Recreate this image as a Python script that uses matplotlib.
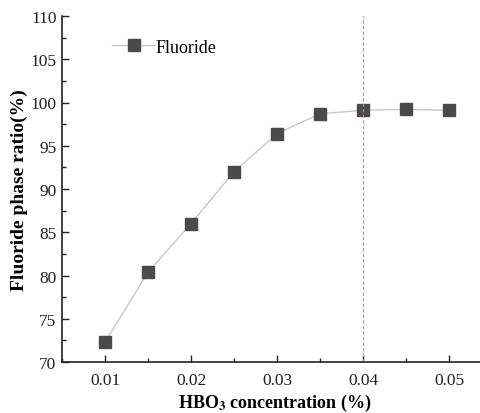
import matplotlib.pyplot as plt
from matplotlib.ticker import MultipleLocator

plt.rcParams['font.family'] = ['Liberation Serif', 'DejaVu Serif']
plt.rcParams['mathtext.fontset'] = 'stix'

# HBO3 concentration (%) vs fluoride phase ratio (%)
conc = [0.010, 0.015, 0.020, 0.025, 0.030, 0.035, 0.040, 0.045, 0.050]
ratio = [72.3, 80.4, 86.0, 92.0, 96.4, 98.7, 99.1, 99.2, 99.1]
x_ticks = [0.01, 0.02, 0.03, 0.04, 0.05]
optimum = 0.04

fig = plt.figure(figsize=(4.81, 4.14), dpi=100)
ax = fig.add_axes([0.129, 0.123, 0.885, 0.836])

ax.plot(conc, ratio, color='#c8c8c8', lw=1.0, marker='s', ms=8,
        mfc='#4a4a4a', mec='#4a4a4a', label='Fluoride')
ax.axvline(optimum, color='#ff6f80', lw=0.8, ls=(0, (3, 2)))

ax.set_xlim(0.005, 0.0545)
ax.set_ylim(70, 110)
ax.set_xticks(x_ticks)
ax.set_xticklabels([f'{v:.2f}' for v in x_ticks])
ax.xaxis.set_minor_locator(MultipleLocator(0.005))
ax.yaxis.set_major_locator(MultipleLocator(5))
ax.yaxis.set_minor_locator(MultipleLocator(2.5))

for s in ('top', 'right'):
    ax.spines[s].set_visible(False)
for s in ('left', 'bottom'):
    ax.spines[s].set_linewidth(1.2)
    ax.spines[s].set_color('#222222')

ax.tick_params(which='major', direction='in', length=5, width=1.0,
               labelsize=12.5, colors='#222222')
ax.tick_params(axis='x', which='major', pad=7)
ax.tick_params(axis='y', which='major', pad=4)
ax.tick_params(which='minor', direction='in', length=3, width=1.0,
               colors='#222222')

ax.set_xlabel(r'HBO$_\mathbf{3}$ concentration (%)', fontsize=13,
              fontweight='bold', labelpad=3)
ax.set_ylabel('Fluoride phase ratio(%)', fontsize=14, fontweight='bold',
              labelpad=2)

ax.legend(loc='upper left', bbox_to_anchor=(0.1, 0.955), frameon=False,
          fontsize=13, handlelength=2.4, handletextpad=0.0, borderaxespad=0)

fig.savefig('out.png', dpi=100)
